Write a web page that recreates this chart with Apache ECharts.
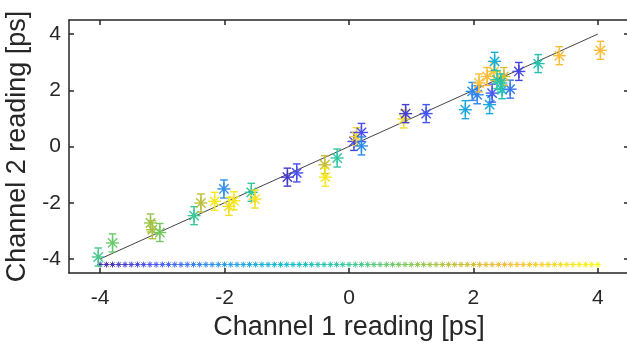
<!DOCTYPE html>
<html><head><meta charset="utf-8">
<script src="https://cdn.jsdelivr.net/npm/echarts@6/dist/echarts.min.js"></script>
<style>html,body{margin:0;padding:0;background:#fff}#c{width:627px;height:345px}</style>
</head><body><div id="c"></div>
<script>
// Measured points: channel 1 reading, channel 2 reading, error half-length, colour value (0..1 on parula)
const ch1 = [-4.03,-3.80,-3.19,-3.16,-3.04,-2.49,-2.38,-2.16,-2.01,-1.93,-1.85,-1.57,-1.51,-0.99,-0.84,-0.39,-0.38,-0.19,0.08,0.12,0.20,0.20,0.88,0.91,1.24,1.87,2.26,1.98,2.06,2.30,2.46,2.59,2.09,2.22,2.33,2.34,2.38,2.49,2.73,3.04,3.38,4.04,2.44];
const ch2 = [-3.93,-3.43,-2.72,-2.96,-3.06,-2.46,-2.01,-1.95,-1.51,-2.13,-1.93,-1.63,-1.87,-1.09,-0.94,-0.65,-1.09,-0.41,0.18,0.35,0.50,0.02,0.98,1.17,1.17,1.31,1.49,1.96,1.84,1.90,2.02,2.04,2.26,2.49,2.67,3.03,2.38,2.49,2.67,2.95,3.23,3.42,2.26];
const err = [0.32,0.32,0.32,0.32,0.32,0.32,0.32,0.32,0.32,0.32,0.32,0.32,0.32,0.32,0.32,0.32,0.32,0.32,0.32,0.32,0.32,0.32,0.32,0.32,0.32,0.32,0.32,0.32,0.32,0.32,0.32,0.32,0.32,0.32,0.32,0.32,0.32,0.32,0.32,0.32,0.32,0.32,0.32];
const cval = [0.52,0.58,0.65,0.68,0.60,0.50,0.70,0.95,0.22,0.93,0.95,0.48,0.93,0.05,0.10,0.72,0.95,0.48,0.08,0.90,0.10,0.22,0.92,0.06,0.12,0.30,0.30,0.22,0.20,0.12,0.42,0.18,0.83,0.82,0.85,0.33,0.50,0.75,0.08,0.45,0.83,0.82,0.45];
// Colour reference row
const refX = [-4.0,-3.9,-3.8,-3.7,-3.6,-3.5,-3.4,-3.3,-3.2,-3.1,-3.0,-2.9,-2.8,-2.7,-2.6,-2.5,-2.4,-2.3,-2.2,-2.1,-2.0,-1.9,-1.8,-1.7,-1.6,-1.5,-1.4,-1.3,-1.2,-1.1,-1.0,-0.9,-0.8,-0.7,-0.6,-0.5,-0.4,-0.3,-0.2,-0.1,0.0,0.1,0.2,0.3,0.4,0.5,0.6,0.7,0.8,0.9,1.0,1.1,1.2,1.3,1.4,1.5,1.6,1.7,1.8,1.9,2.0,2.1,2.2,2.3,2.4,2.5,2.6,2.7,2.8,2.9,3.0,3.1,3.2,3.3,3.4,3.5,3.6,3.7,3.8,3.9,4.0];
const refY = -4.2;
// identity line
const lineX = [-4, 4];
const lineY = [-4, 4];
const xTicks = [-4,-2,0,2,4];
const yTicks = [-4,-2,0,2,4];

const stops = [
 [0.00,[62,38,168]],[0.11,[72,82,244]],[0.24,[39,150,235]],[0.37,[14,185,207]],
 [0.50,[55,200,151]],[0.62,[130,200,85]],[0.72,[200,190,50]],[0.82,[250,188,58]],
 [0.91,[245,215,40]],[1.00,[249,251,14]]];
function parula(t){
  for(let i=1;i<stops.length;i++){
    if(t<=stops[i][0]){
      const a=stops[i-1],b=stops[i],f=(t-a[0])/(b[0]-a[0]);
      const c=a[1].map((v,k)=>Math.round(v+(b[1][k]-v)*f));
      return 'rgb('+c.join(',')+')';
    }
  }
  return 'rgb(249,251,14)';
}
const pts = ch1.map((x,i)=>[x, ch2[i], err[i], cval[i]]);
const refPts = refX.map((x,i)=>[x, refY, i/(refX.length-1)]);

function star(cx, cy, r, color, lw){
  const d = r*0.72;
  const segs = [[cx-r,cy,cx+r,cy],[cx,cy-r,cx,cy+r],[cx-d,cy-d,cx+d,cy+d],[cx-d,cy+d,cx+d,cy-d]];
  return segs.map(s=>({type:'line',shape:{x1:s[0],y1:s[1],x2:s[2],y2:s[3]},style:{stroke:color,lineWidth:lw}}));
}

const font = 'Liberation Sans, Arial, sans-serif';
const chart = echarts.init(document.getElementById('c'), null, {renderer:'canvas'});
const axCol = '#262626';
chart.setOption({
  animation:false,
  grid:{left:69, top:20, width:560, height:253, containLabel:false, outerBoundsMode:'none'},
  xAxis:[
    {type:'value', min:-4.5, max:4.5, position:'bottom',
     name:'Channel 1 reading [ps]', nameLocation:'middle', nameGap:39,
     nameTextStyle:{fontFamily:font, fontSize:27, color:'#262626'},
     axisLine:{show:true, onZero:false, lineStyle:{color:axCol, width:1.5}},
     axisTick:{show:true, inside:true, length:5, lineStyle:{color:axCol, width:1.5}, customValues:xTicks},
     axisLabel:{fontFamily:font, fontSize:21, color:'#262626', margin:15, customValues:xTicks},
     splitLine:{show:false}},
    {type:'value', min:-4.5, max:4.5, position:'top',
     axisLine:{show:true, onZero:false, lineStyle:{color:axCol, width:1.5}},
     axisTick:{show:true, inside:true, length:5, lineStyle:{color:axCol, width:1.5}, customValues:xTicks},
     axisLabel:{show:false}, splitLine:{show:false}}
  ],
  yAxis:[
    {type:'value', min:-4.5, max:4.5, position:'left',
     name:'Channel 2 reading [ps]', nameLocation:'middle', nameGap:34,
     nameTextStyle:{fontFamily:font, fontSize:27, color:'#262626'},
     axisLine:{show:true, onZero:false, lineStyle:{color:axCol, width:1.5}},
     axisTick:{show:true, inside:true, length:5, lineStyle:{color:axCol, width:1.5}, customValues:yTicks},
     axisLabel:{fontFamily:font, fontSize:21, color:'#262626', margin:8, customValues:yTicks},
     splitLine:{show:false}},
    {type:'value', min:-4.5, max:4.5, position:'right',
     axisLine:{show:true, onZero:false, lineStyle:{color:axCol, width:1.5}},
     axisTick:{show:true, inside:true, length:5, lineStyle:{color:axCol, width:1.5}, customValues:yTicks},
     axisLabel:{show:false}, splitLine:{show:false}}
  ],
  series:[
    {type:'line', data:lineX.map((x,i)=>[x,lineY[i]]), symbol:'none',
     lineStyle:{color:'#444', width:1}, silent:true, z:1},
    {type:'custom', data:pts, z:3, silent:true,
     renderItem:function(params, api){
       const x=api.value(0), y=api.value(1), e=api.value(2), c=parula(api.value(3));
       const p=api.coord([x,y]), t=api.coord([x,y+e]), b=api.coord([x,y-e]);
       const cw=3.8, lw=1.4;
       const ch=[
         {type:'line',shape:{x1:p[0],y1:t[1],x2:p[0],y2:b[1]},style:{stroke:c,lineWidth:lw}},
         {type:'line',shape:{x1:p[0]-cw,y1:t[1],x2:p[0]+cw,y2:t[1]},style:{stroke:c,lineWidth:lw}},
         {type:'line',shape:{x1:p[0]-cw,y1:b[1],x2:p[0]+cw,y2:b[1]},style:{stroke:c,lineWidth:lw}}
       ].concat(star(p[0],p[1],6.5,c,lw));
       return {type:'group', children:ch, style:{opacity:0.8}};
     }},
    {type:'custom', data:refPts, z:2, silent:true,
     renderItem:function(params, api){
       const p=api.coord([api.value(0), api.value(1)]), c=parula(api.value(2));
       return {type:'group', children:star(p[0],p[1],3,c,1)};
     }}
  ]
});
</script></body></html>
